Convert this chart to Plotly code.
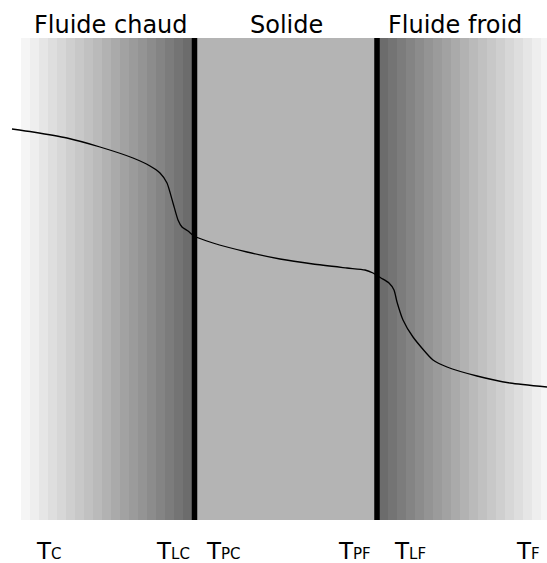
import plotly.graph_objects as go

# Gray shades of the fluid bands (lightest far from wall -> darkest at wall)
band_shades = [245, 238, 230, 222, 215, 207, 200, 193, 186, 178, 170, 162, 155, 148, 140, 132, 124, 116, 108]
solid_shade = 180

# Temperature profile (x, y in picture units; y grows downward)
curve_x = [12, 33, 67, 100, 133, 150, 160, 167, 173, 178, 182, 188, 194, 213, 247, 280, 313, 347, 365, 373,
           381, 389, 394, 397, 403, 413, 433, 447, 477, 510, 547]
curve_y = [129, 132, 138, 147, 158, 166, 173, 183, 203, 220, 227, 231, 236, 243, 252, 259, 264, 268, 270, 273,
           278, 283, 290, 302, 320, 337, 360, 367, 376, 383, 387]

titles = ["Fluide chaud", "Solide", "Fluide froid"]
title_x = [111, 286, 455]

label_main = ["T", "T", "T", "T", "T", "T"]
label_sub = ["C", "LC", "PC", "PF", "LF", "F"]
label_x = [34, 154, 204, 336, 392, 514]

# geometry
top, bottom = 38, 520
band_w = 9
left_start = 21.5
wall_left = 194.5
wall_right = 377
right_start = 379.5

fig = go.Figure()

n = len(band_shades)
xs, cs = [], []
for i, s in enumerate(band_shades):
    xs.append(left_start + band_w * (i + 0.5))
    cs.append(f"rgb({s},{s},{s})")
for i, s in enumerate(reversed(band_shades)):
    xs.append(right_start + band_w * (i + 0.5))
    cs.append(f"rgb({s},{s},{s})")
xs.append((wall_left + wall_right) / 2)
cs.append(f"rgb({solid_shade},{solid_shade},{solid_shade})")
ws = [band_w + 0.4] * (2 * n) + [wall_right - wall_left]

fig.add_trace(go.Bar(x=xs, y=[bottom - top] * len(xs), base=[top] * len(xs), width=ws,
                     marker=dict(color=cs, line=dict(width=0)), hoverinfo="skip", showlegend=False))

for wx in [wall_left, wall_right]:
    fig.add_trace(go.Scatter(x=[wx, wx], y=[top, bottom], mode="lines",
                             line=dict(color="black", width=5.5), showlegend=False, hoverinfo="skip"))

fig.add_trace(go.Scatter(x=curve_x, y=curve_y, mode="lines",
                         line=dict(color="black", width=1.3, shape="spline", smoothing=0.6),
                         showlegend=False, hoverinfo="skip"))

font = "DejaVu Sans, sans-serif"
for t, x in zip(titles, title_x):
    fig.add_annotation(x=x, y=25, text=t, showarrow=False, xanchor="center", yanchor="middle",
                       font=dict(family=font, size=24, color="black"))

for m, s, x in zip(label_main, label_sub, label_x):
    fig.add_annotation(x=x, y=550.5, text=f"{m}<span style='font-size:15px'>{s}</span>", showarrow=False,
                       xanchor="left", yanchor="middle", font=dict(family=font, size=23, color="black"))

fig.update_layout(width=547, height=563, margin=dict(l=0, r=0, t=0, b=0),
                  plot_bgcolor="white", paper_bgcolor="white", barmode="overlay", bargap=0,
                  xaxis=dict(range=[0, 547], visible=False, fixedrange=True),
                  yaxis=dict(range=[563, 0], visible=False, fixedrange=True))

fig.write_html("out.html", config={"displayModeBar": False, "staticPlot": True},
               post_script="document.body.style.margin='0';document.body.style.overflow='hidden';")
